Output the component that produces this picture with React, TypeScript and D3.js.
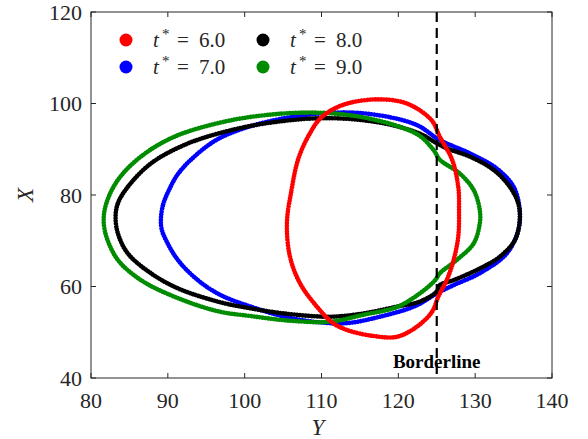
import React from "react";
import * as d3 from "d3";

const W = 588;
const H = 439;
const M = { left: 91, top: 12, right: 552, bottom: 378 };

const xTicks = [80, 90, 100, 110, 120, 130, 140];
const yTicks = [40, 60, 80, 100, 120];
const borderline = 125;

const labels = ["6.0", "7.0", "8.0", "9.0"];
const colors = ["#ff0000", "#0000ff", "#000000", "#008c00"];

// [Y, X] outline points
const red: [number, number][] = [
  [105.5, 73.8], [106.1, 81.1], [107.0, 88.0], [108.5, 93.5], [110.0, 97.0], [112.8, 99.7],
  [117.2, 100.9], [121.1, 100.0], [124.3, 96.4], [125.4, 92.7], [127.0, 87.7], [127.8, 81.8],
  [127.9, 76.7], [127.8, 70.9], [127.2, 65.8], [126.3, 61.4], [125.2, 57.8], [124.4, 54.5],
  [122.4, 51.2], [119.8, 49.0], [116.7, 49.2], [113.3, 50.5], [111.5, 52.0], [109.4, 55.6],
  [107.2, 60.7], [105.9, 66.5],
];
const blue: [number, number][] = [
  [89.1, 74.8], [89.4, 78.0], [90.1, 80.9], [91.2, 84.3], [93.0, 87.7], [96.6, 92.3], [102.9, 96.0],
  [111.5, 98.0], [117.2, 97.5], [122.4, 95.3], [125.4, 92.0], [129.3, 89.1], [132.8, 85.8],
  [135.0, 81.8], [135.8, 76.7], [135.6, 72.3], [134.1, 67.2], [130.6, 62.9], [127.2, 60.3],
  [125.0, 58.5], [122.3, 55.8], [117.6, 53.4], [113.3, 52.0], [109.5, 52.2], [105.2, 53.4],
  [100.8, 55.6], [96.9, 58.1], [93.9, 61.4], [91.3, 65.8], [89.8, 70.0], [89.2, 72.5],
];
const black: [number, number][] = [
  [83.2, 75.3], [83.5, 78.2], [84.8, 81.8], [87.8, 86.9], [92.1, 90.9], [96.9, 93.6],
  [102.9, 95.7], [110.7, 96.8], [118.0, 95.7], [122.8, 93.4], [125.0, 91.3], [126.3, 90.2],
  [129.3, 88.4], [132.4, 85.5], [134.5, 81.8], [135.6, 78.2], [135.8, 74.5], [135.2, 70.2],
  [133.2, 66.5], [130.2, 63.6], [127.2, 61.4], [125.4, 60.3], [125.0, 58.9], [122.8, 56.7],
  [119.8, 55.6], [115.4, 54.1], [111.1, 53.4], [105.2, 54.1], [99.5, 55.6], [96.5, 56.7],
  [91.3, 59.6], [87.8, 62.9], [84.8, 67.2], [83.5, 71.6],
];
const green: [number, number][] = [
  [81.65, 74.5], [82.0, 78.2], [83.5, 83.3], [86.5, 88.4], [90.8, 92.7], [97.0, 95.9],
  [102.9, 97.5], [109.4, 98.0], [115.0, 97.1], [120.2, 94.9], [122.8, 92.9], [124.6, 89.8],
  [125.4, 87.7], [128.0, 84.7], [129.8, 81.1], [130.6, 76.7], [130.6, 73.8], [129.8, 69.4],
  [127.6, 65.8], [125.4, 62.9], [124.8, 61.4], [122.8, 58.5], [119.8, 55.5], [115.4, 53.8],
  [111.1, 52.3], [106.0, 52.5], [101.0, 53.5], [96.5, 54.6], [90.8, 57.8], [86.5, 61.4],
  [83.5, 65.8], [82.0, 70.9],
];
const series = [red, blue, black, green];

const x = d3.scaleLinear().domain([80, 140]).range([M.left, M.right]);
const y = d3.scaleLinear().domain([40, 120]).range([M.bottom, M.top]);

const line = d3
  .line<[number, number]>()
  .x((d) => x(d[0]))
  .y((d) => y(d[1]))
  .curve(d3.curveCatmullRomClosed.alpha(0.5));

const axisColor = "#262626";
const serif = '"Liberation Serif", "Times New Roman", Times, "DejaVu Serif", serif';

export default function App() {
  const drawOrder = [1, 2, 3, 0];
  const tick = 5;
  return (
    <svg
      width={W}
      height={H}
      style={{ position: "absolute", left: 0, top: 0, background: "#fff", fontFamily: serif }}
    >
      <rect x={0} y={0} width={W} height={H} fill="#fff" />
      {drawOrder.map((i) => (
        <path
          key={i}
          d={line(series[i]) || ""}
          fill="none"
          stroke={colors[i]}
          strokeWidth={4.6}
          strokeLinecap="round"
          strokeDasharray="0.01 2.8"
        />
      ))}
      <line
        x1={x(borderline)}
        x2={x(borderline)}
        y1={y(120)}
        y2={y(40)}
        stroke="#000"
        strokeWidth={2.2}
        strokeDasharray="10 6"
      />
      <text
        x={x(borderline)}
        y={368}
        textAnchor="middle"
        fontWeight="bold"
        fontSize={19}
        fill="#000"
        style={{ fontFamily: serif }}
      >
        Borderline
      </text>
      {/* frame */}
      <rect
        x={M.left}
        y={M.top}
        width={M.right - M.left}
        height={M.bottom - M.top}
        fill="none"
        stroke={axisColor}
        strokeWidth={1}
      />
      {xTicks.map((t) => (
        <g key={"xt" + t}>
          <line x1={x(t)} x2={x(t)} y1={M.bottom} y2={M.bottom - tick} stroke={axisColor} />
          <line x1={x(t)} x2={x(t)} y1={M.top} y2={M.top + tick} stroke={axisColor} />
          <text x={x(t)} y={408} textAnchor="middle" fontSize={22} fill={axisColor} style={{ fontFamily: serif }}>
            {t}
          </text>
        </g>
      ))}
      {yTicks.map((t) => (
        <g key={"yt" + t}>
          <line x1={M.left} x2={M.left + tick} y1={y(t)} y2={y(t)} stroke={axisColor} />
          <line x1={M.right} x2={M.right - tick} y1={y(t)} y2={y(t)} stroke={axisColor} />
          <text x={82} y={y(t) + 7.5} textAnchor="end" fontSize={22} fill={axisColor} style={{ fontFamily: serif }}>
            {t}
          </text>
        </g>
      ))}
      <text x={318} y={435} textAnchor="middle" fontSize={23} fontStyle="italic" fill={axisColor} style={{ fontFamily: serif }}>
        Y
      </text>
      <text
        transform={`translate(33,${(M.top + M.bottom) / 2}) rotate(-90)`}
        textAnchor="middle"
        fontSize={23}
        fontStyle="italic"
        fill={axisColor}
        style={{ fontFamily: serif }}
      >
        X
      </text>
      {/* legend */}
      {labels.map((lab, i) => {
        const col = Math.floor(i / 2);
        const row = i % 2;
        const cx = 126 + col * 137;
        const cy = 40 + row * 27;
        const base = cy + 6.5;
        return (
          <g key={"lg" + i} fill={axisColor} style={{ fontFamily: serif }}>
            <circle cx={cx} cy={cy} r={6.5} fill={colors[i]} />
            <text x={cx + 27} y={base} fontSize={21} fontStyle="italic">t</text>
            <text x={cx + 36} y={base - 8} fontSize={15}>*</text>
            <text x={cx + 51} y={base} fontSize={21}>=</text>
            <text x={cx + 73} y={base} fontSize={21}>{lab}</text>
          </g>
        );
      })}
    </svg>
  );
}
